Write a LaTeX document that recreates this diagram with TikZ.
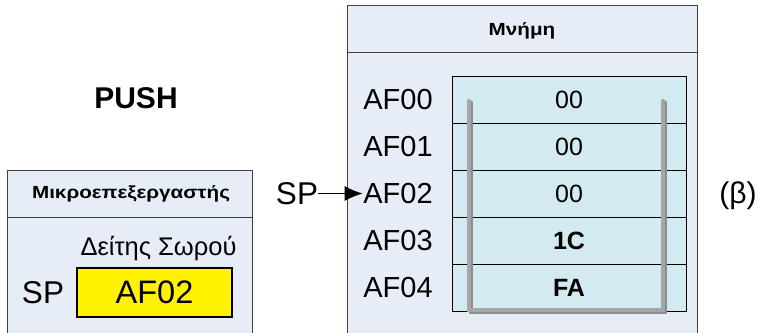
\documentclass[tikz,border=0pt]{standalone}
\usepackage{fontspec}
\setmainfont{Liberation Sans}
\newfontfamily\widebold[FakeStretch=1.18]{Liberation Sans Bold}
\usetikzlibrary{arrows.meta}
\definecolor{boxfill}{HTML}{E7EDF7}
\definecolor{cellfill}{HTML}{D3EAF0}
\definecolor{boxline}{HTML}{404040}
\definecolor{ugray}{HTML}{A6A6A6}
\definecolor{ushadow}{HTML}{8C8C8C}
\tikzset{
  panel/.style={draw=boxline, line width=0.8bp, fill=boxfill},
  cellbox/.style={draw=black, line width=0.8bp, fill=cellfill, minimum width=234bp, minimum height=47bp, inner sep=0pt},
  reglbl/.style={font=\fontsize{29bp}{30bp}\selectfont, text height=20.8bp, text depth=0pt, inner sep=0pt},
  vallbl/.style={font=\fontsize{25bp}{26bp}\selectfont, text height=18bp, text depth=0pt, inner sep=0pt},
  boldval/.style={vallbl, font=\bfseries\fontsize{25bp}{26bp}\selectfont},
  bigtxt/.style={font=\fontsize{31.5bp}{32bp}\selectfont, text height=22.5bp, text depth=0pt, inner sep=0pt},
  titletxt/.style={font=\widebold\fontsize{17.5bp}{18bp}\selectfont, text height=12.5bp, text depth=0pt, inner sep=0pt},
  ustroke/.style={line width=4bp, line cap=round, line join=miter}
}
\begin{document}
\begin{tikzpicture}[x=1bp,y=-1bp]
\useasboundingbox (0,0) rectangle (765,332);
\clip (0,0) rectangle (765,332);
% title
\node[font=\bfseries\fontsize{30bp}{31bp}\selectfont, text height=21.5bp, text depth=0pt, inner sep=0pt] (push) at (136,98) {PUSH};
% left panel (microprocessor)
\path[panel] (7,170) rectangle (252,345);
\draw[boxline, line width=0.8bp] (7,217) -- (252,217);
\node[titletxt] (cputitle) at (131,192.5) {Μικροεπεξεργαστής};
\node[font=\fontsize{25.5bp}{26bp}\selectfont, text height=18bp, text depth=0pt, inner sep=0pt] (sptitle) at (158.5,246.5) {Δείτης Σωρού};
\node[bigtxt] (splbl) at (43,292) {SP};
\node[draw=black, line width=2bp, fill=yellow, minimum width=155bp, minimum height=49bp, inner sep=0pt] (spreg) at (154.5,292.5) {};
\node[bigtxt, font=\fontsize{32.5bp}{33bp}\selectfont] (spval) at (154.5,292.5) {AF02};
% memory panel
\path[panel] (347,5) rectangle (697,345);
\draw[boxline, line width=0.8bp] (347,52) -- (697,52);
\node[titletxt] (memtitle) at (522,29) {Μνήμη};
% cells
\node[cellbox] (c0) at (569,99.5) {};
\node[cellbox] (c1) at (569,146.5) {};
\node[cellbox] (c2) at (569,193.5) {};
\node[cellbox] (c3) at (569,240.5) {};
\node[cellbox] (c4) at (569,287.5) {};
\node[vallbl] (v0) at (569,99.5) {00};
\node[vallbl] (v1) at (569,146.5) {00};
\node[vallbl] (v2) at (569,193.5) {00};
\node[boldval] (v3) at (569,240.5) {1C};
\node[boldval] (v4) at (569,287.5) {FA};
% address labels
\node[reglbl] (a0) at (398,99.5) {AF00};
\node[reglbl] (a1) at (398,146.5) {AF01};
\node[reglbl] (a2) at (398,193.5) {AF02};
\node[reglbl] (a3) at (398,240.5) {AF03};
\node[reglbl] (a4) at (398,287.5) {AF04};
% gray U (stack region)
\draw[ustroke, ushadow] (470.5,102.5) -- (470.5,311.5) -- (664.5,311.5) -- (664.5,102.5);
\draw[ustroke, ugray] (469,101) -- (469,310) -- (663,310) -- (663,101);
% SP pointer
\node[bigtxt] (sp) at (297,193.5) {SP};
\draw[-{Latex[length=18bp,width=15bp]}, line width=1.2bp, shorten >=0.5bp] (sp.east) -- (a2.west);
% (beta)
\node[font=\fontsize{30bp}{31bp}\selectfont, inner sep=0pt] (beta) at (738,196) {(β)};
\end{tikzpicture}
\end{document}
